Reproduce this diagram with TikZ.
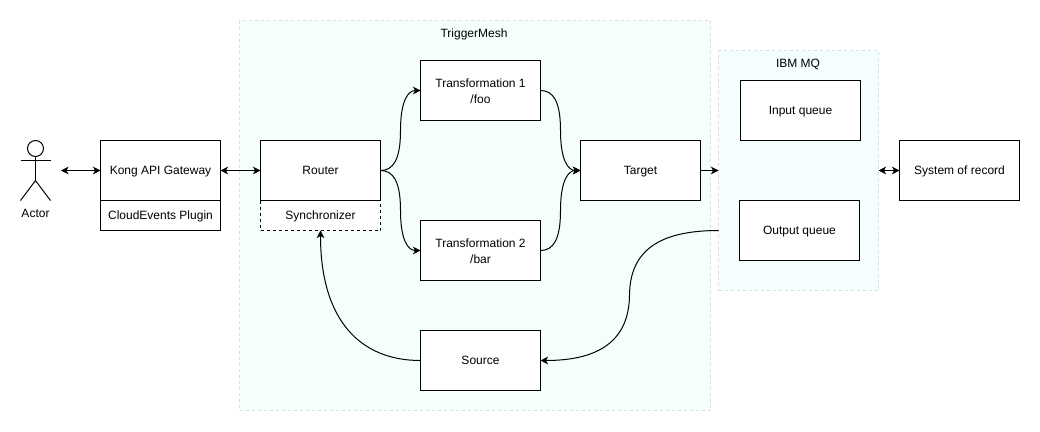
\documentclass[tikz,border=0pt]{standalone}
\usepackage{fontspec}
\setmainfont{Liberation Sans}
\usetikzlibrary{arrows.meta,positioning,calc}
\definecolor{tmfill}{HTML}{F4FFF9}
\definecolor{mqfill}{HTML}{F5FEFF}
\definecolor{grpline}{HTML}{D3E3DC}
\tikzset{
  px/.style={x=1pt,y=-1pt},
  boxbase/.style={draw=black,fill=white,line width=1pt,rectangle,minimum width=120pt,inner sep=0pt,outer sep=0pt,align=center,font=\fontsize{12}{16}\selectfont,anchor=north west},
  boxn/.style={boxbase,text height=7.5pt,text depth=0pt},
  tall/.style={boxn,minimum height=60pt},
  short/.style={boxn,minimum height=30pt},
  twoline/.style={boxbase,minimum height=60pt},
  group/.style={draw=grpline,line width=1pt,dash pattern=on 3pt off 3pt,rectangle,inner sep=0pt,outer sep=0pt,anchor=north west},
  lbl/.style={font=\fontsize{12}{15}\selectfont,inner sep=0pt,text height=8pt,text depth=0pt},
  conn/.style={line width=1pt,-{Stealth[length=7.5pt,width=7.5pt,inset=2pt]}},
  conntwo/.style={line width=1pt,{Stealth[length=7.5pt,width=7.5pt,inset=2pt]}-{Stealth[length=7.5pt,width=7.5pt,inset=2pt]}},
  stick/.style={line width=1pt,draw=black}
}
\begin{document}
\begin{tikzpicture}[px]
\useasboundingbox (0,0) rectangle (1040,431);
\fill[white] (0,0) rectangle (1040,431);
% groups
\node[group,fill=tmfill,minimum width=471pt,minimum height=390pt] (tm) at (239.5,20.5) {};
\node[group,fill=mqfill,minimum width=160pt,minimum height=240pt] (mq) at (718.5,50.5) {};
\node[lbl] (tmlabel) at (474,33.5) {TriggerMesh};
\node[lbl] (mqlabel) at (798,63.5) {IBM MQ};
% actor
\coordinate (head) at (35.5,148.5);
\draw[stick] (head) circle (8);
\draw[stick] (35.5,156.5) -- (35.5,180.5);
\draw[stick] (20.5,160.5) -- (50.5,160.5);
\draw[stick] (20.5,200.5) -- (35.5,180.5) -- (50.5,200.5);
\node[lbl] (actorlabel) at (35.5,213.5) {Actor};
\coordinate (actorport) at (61,170.5);
% boxes
\node[tall] (kong) at (100.5,140.5) {Kong API Gateway};
\node[short] (plugin) at (100.5,200.5) {CloudEvents Plugin};
\node[short,dash pattern=on 3pt off 3pt] (sync) at (260.5,200.5) {Synchronizer};
\node[tall] (router) at (260.5,140.5) {Router};
\node[twoline] (tone) at (420.5,60.5) {\rule{0pt}{11pt}Transformation 1\\/foo};
\node[twoline] (ttwo) at (420.5,220.5) {\rule{0pt}{11pt}Transformation 2\\/bar};
\node[tall] (target) at (580.5,140.5) {Target};
\node[tall] (source) at (420.5,330.5) {Source};
\node[tall] (inq) at (740.5,80.5) {Input queue};
\node[tall] (outq) at (739.5,200.5) {Output queue};
\node[tall] (sor) at (899.5,140.5) {System of record};
\coordinate (mqout) at (mq.west |- outq.west);
% connectors
\draw[conntwo] (actorport) -- (kong.west);
\draw[conntwo] (kong.east) -- (router.west);
\draw[conn] (router.east) .. controls (393,170.5) and (400.5,160) .. (400.5,130.5) .. controls (400.5,101) and (408,90.5) .. (tone.west);
\draw[conn] (router.east) .. controls (393,170.5) and (400.5,181) .. (400.5,210.5) .. controls (400.5,240) and (408,250.5) .. (ttwo.west);
\draw[conn] (tone.east) .. controls (553,90.5) and (560.5,101) .. (560.5,130.5) .. controls (560.5,160) and (568,170.5) .. (target.west);
\draw[conn] (ttwo.east) .. controls (553,250.5) and (560.5,240) .. (560.5,210.5) .. controls (560.5,181) and (568,170.5) .. (target.west);
\draw[conn] (target.east) -- (mq.west |- target.east);
\draw[conntwo] (mq.east |- sor.west) -- (sor.west);
\draw[conn] (mqout) .. controls (660,230.5) and (630,250) .. (629.5,295) .. controls (629,340) and (600,360.5) .. (source.east);
\draw[conn] (source.west) .. controls (360,360.5) and (320.5,320) .. (sync.south);
\end{tikzpicture}
\end{document}
